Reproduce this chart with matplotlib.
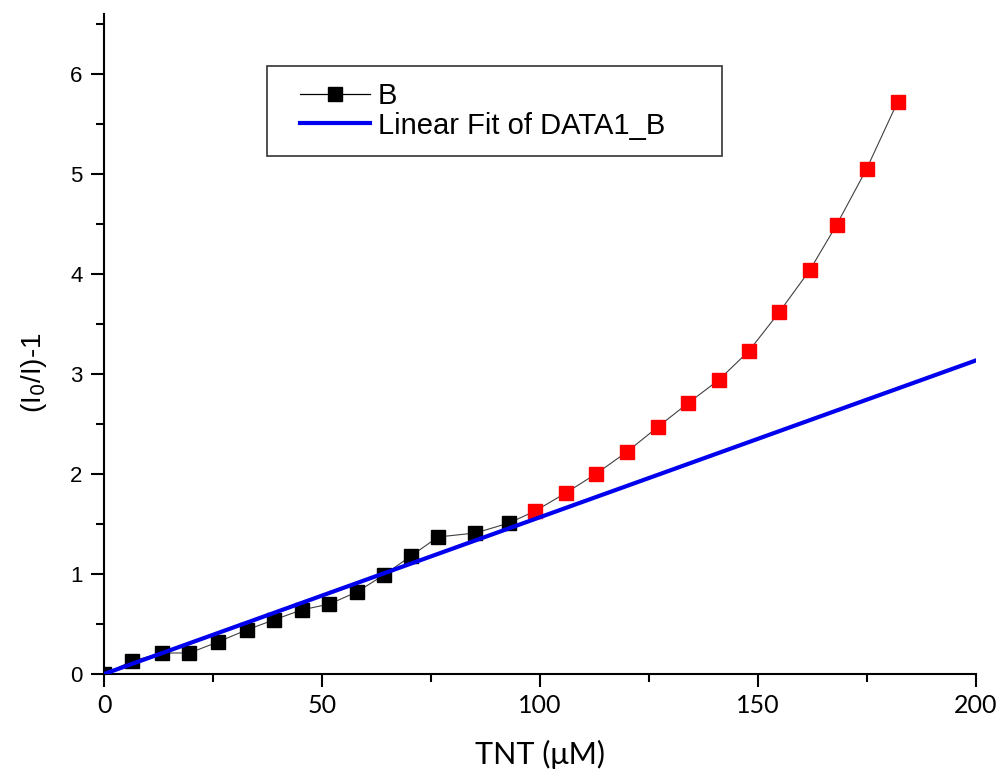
import numpy as np
import matplotlib
matplotlib.use("Agg")
from matplotlib import pyplot as plt
from matplotlib.ticker import MultipleLocator
from matplotlib.legend_handler import HandlerLine2D

plt.rcParams['font.family'] = ['Liberation Sans', 'DejaVu Sans']

# quenching data, low concentration part (black) and high part (red)
tnt_low = [0.0, 6.5, 13.2, 19.6, 26.1, 32.7, 38.9, 45.3, 51.7, 58.0,
           64.2, 70.4, 76.6, 85.2, 92.9]
ratio_low = [0.0, 0.13, 0.21, 0.21, 0.32, 0.44, 0.54, 0.64, 0.70, 0.82,
             0.99, 1.18, 1.37, 1.41, 1.51]
tnt_high = [98.9, 105.9, 112.8, 119.9, 127.0, 134.0, 141.0, 147.9, 154.9,
            161.9, 168.0, 174.9, 182.0]
ratio_high = [1.63, 1.81, 2.00, 2.22, 2.47, 2.71, 2.94, 3.23, 3.62,
              4.04, 4.49, 5.05, 5.72]

# linear fit of the low concentration data
fit_slope = 0.01568
fit_intercept = 0.0
fit_x = [0, 200]

fig = plt.figure(figsize=(10.06, 7.78), dpi=100)
ax = fig.add_axes([0.1034, 0.1337, 0.8668, 0.8483])

tnt_all = tnt_low + tnt_high
ratio_all = ratio_low + ratio_high
ax.plot(tnt_all, ratio_all, color='#404040', lw=0.8, zorder=2)
ax.plot(tnt_low, ratio_low, ls='none', marker='s', ms=10, mfc='black',
        mec='black', zorder=3)
ax.plot(tnt_high, ratio_high, ls='none', marker='s', ms=10, mfc='#ff0000',
        mec='#ff0000', zorder=3)
fit_y = [fit_slope * x + fit_intercept for x in fit_x]
ax.plot(fit_x, fit_y, color='#0000ee', lw=3, zorder=4)

# legend handles; xpad leaves empty room left of the sample lines
h1, = ax.plot([], [], color='black', lw=0.9, marker='s', ms=10)
h2, = ax.plot([], [], color='#0000ee', lw=3)
hmap = {h1: HandlerLine2D(xpad=0.58), h2: HandlerLine2D(xpad=0.58)}
leg = ax.legend([h1, h2], ['B', 'Linear Fit of DATA1_B     '],
                handler_map=hmap, loc='upper left',
                bbox_to_anchor=(0.187, 0.921), borderaxespad=0,
                fontsize=21, frameon=True, fancybox=False,
                edgecolor='black', handlelength=2.98, handletextpad=0.27,
                borderpad=0.55, labelspacing=0.05)
leg.get_frame().set_linewidth(1.2)

ax.set_xlim(0, 200)
ax.set_ylim(0, 6.6)
ax.xaxis.set_major_locator(MultipleLocator(50))
ax.xaxis.set_minor_locator(MultipleLocator(25))
ax.yaxis.set_major_locator(MultipleLocator(1))
ax.yaxis.set_minor_locator(MultipleLocator(0.5))

for side in ['top', 'right']:
    ax.spines[side].set_visible(False)
for side in ['left', 'bottom']:
    ax.spines[side].set_linewidth(1.5)

ax.tick_params(which='major', direction='out', length=9.5, width=1.5)
ax.tick_params(which='minor', direction='out', length=6, width=1.5)
ax.tick_params(axis='y', labelsize=16, pad=6)
ax.tick_params(axis='x', labelsize=18, pad=5)
for lab in ax.get_xticklabels():
    lab.set_fontfamily('Lato')

ax.set_xlabel('TNT (μM)', fontsize=22, fontfamily='Lato')
ax.xaxis.set_label_coords(0.5, -0.1)
ax.set_ylabel('(I$_0$/I)-1', fontsize=20)
ax.yaxis.set_label_coords(-0.063, 0.456)

fig.savefig('out.png', dpi=100)
